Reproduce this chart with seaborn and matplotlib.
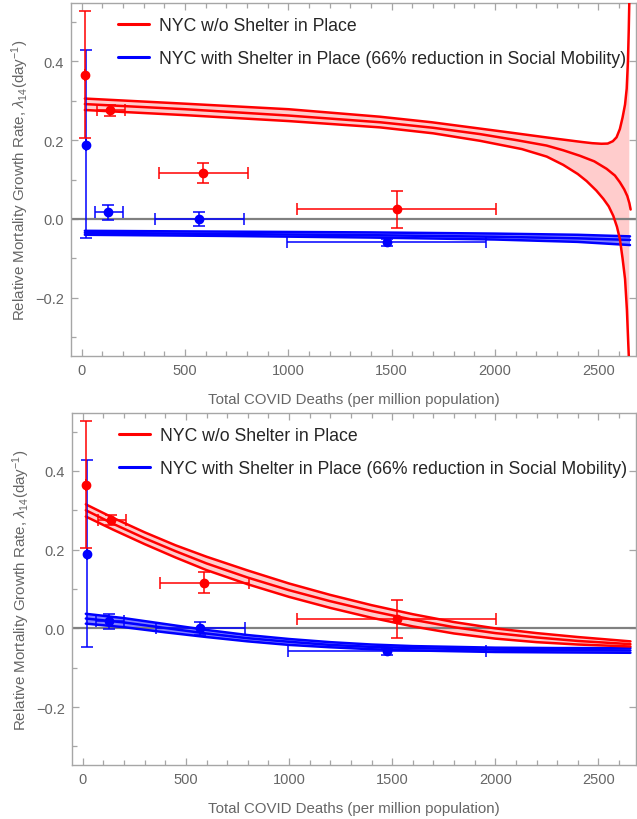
import numpy as np
import pandas as pd
import matplotlib
matplotlib.use("Agg")
import matplotlib.pyplot as plt
from matplotlib.ticker import MultipleLocator, FixedLocator
from matplotlib.lines import Line2D
import seaborn as sns

# ---- observed data (total deaths per million vs. relative growth rate) ----
red_x = [18, 137, 588, 1524]
red_y = [0.365, 0.276, 0.116, 0.025]
red_xlo = [18, 72, 375, 1040]
red_xhi = [18, 210, 806, 2003]
red_ylo = [0.205, 0.262, 0.090, -0.024]
red_yhi = [0.527, 0.289, 0.142, 0.072]

blue_x = [21, 129, 569, 1475]
blue_y = [0.188, 0.0185, 0.0, -0.058]
blue_xlo = [21, 64, 355, 995]
blue_xhi = [21, 201, 785, 1955]
blue_ylo = [-0.048, -0.002, -0.017, -0.068]
blue_yhi = [0.428, 0.036, 0.017, -0.050]

# ---- model curves, upper panel ----
t_red_up_x = [15, 500, 1000, 1443, 1693, 2043, 2300, 2420, 2470, 2515, 2545, 2570, 2588,
              2604, 2617, 2629, 2637, 2643, 2647, 2650]
t_red_up_y = [0.305, 0.292, 0.278, 0.259, 0.245, 0.221, 0.203, 0.195, 0.192, 0.1905, 0.191,
              0.197, 0.207, 0.228, 0.257, 0.290, 0.330, 0.400, 0.480, 0.560]
t_red_mid_x = [15, 500, 1000, 1443, 1700, 1927, 2100, 2249, 2330, 2411, 2480, 2540, 2580,
               2604, 2625, 2640, 2650, 2656]
t_red_mid_y = [0.291, 0.278, 0.262, 0.245, 0.231, 0.215, 0.200, 0.186, 0.174, 0.160, 0.146,
               0.127, 0.110, 0.093, 0.075, 0.058, 0.040, 0.024]
t_red_lo_x = [15, 500, 1000, 1443, 1700, 1927, 2130, 2250, 2330, 2400, 2443, 2490, 2524,
              2550, 2572, 2590, 2604, 2617, 2629, 2638, 2645, 2649]
t_red_lo_y = [0.276, 0.263, 0.248, 0.232, 0.217, 0.198, 0.177, 0.158, 0.137, 0.114, 0.096,
              0.072, 0.051, 0.032, 0.008, -0.020, -0.051, -0.100, -0.152, -0.230, -0.321, -0.370]

t_blue_x = [15, 700, 1400, 2000, 2400, 2653]
t_blue_up_y = [-0.030, -0.032, -0.034, -0.037, -0.040, -0.044]
t_blue_mid_y = [-0.035, -0.038, -0.041, -0.045, -0.049, -0.053]
t_blue_lo_y = [-0.040, -0.043, -0.047, -0.052, -0.058, -0.066]

# ---- model curves, lower panel ----
b_x = [15, 150, 300, 450, 600, 800, 1000, 1200, 1400, 1600, 1800, 2000, 2200, 2400, 2655]
b_red_up_y = [0.315, 0.280, 0.244, 0.211, 0.182, 0.147, 0.114, 0.085, 0.059, 0.036, 0.016,
              0.000, -0.012, -0.022, -0.033]
b_red_mid_y = [0.300, 0.265, 0.229, 0.196, 0.165, 0.129, 0.097, 0.069, 0.044, 0.022, 0.003,
               -0.012, -0.023, -0.032, -0.040]
b_red_lo_y = [0.284, 0.250, 0.214, 0.180, 0.148, 0.112, 0.080, 0.052, 0.027, 0.005, -0.013,
              -0.026, -0.035, -0.041, -0.046]

b_blue_x = [15, 200, 400, 600, 800, 1000, 1200, 1400, 1600, 1800, 2000, 2300, 2655]
b_blue_up_y = [0.037, 0.026, 0.011, -0.004, -0.017, -0.027, -0.035, -0.041, -0.045, -0.047,
               -0.049, -0.050, -0.050]
b_blue_mid_y = [0.025, 0.015, 0.001, -0.013, -0.025, -0.034, -0.042, -0.047, -0.050, -0.052,
                -0.054, -0.055, -0.056]
b_blue_lo_y = [0.012, 0.003, -0.010, -0.022, -0.033, -0.042, -0.048, -0.053, -0.056, -0.058,
               -0.060, -0.061, -0.062]

legend_labels = ["NYC w/o Shelter in Place",
                 "NYC with Shelter in Place (66% reduction in Social Mobility)"]
xlabel = "Total COVID Deaths (per million population)"
ylabel = r"Relative Mortality Growth Rate, $\lambda_{14}$(day$^{-1}$)"

sns.set_style("ticks")
plt.rcParams["font.family"] = ["Liberation Sans", "DejaVu Sans"]
plt.rcParams["mathtext.fontset"] = "custom"
plt.rcParams["mathtext.rm"] = "Liberation Sans"
plt.rcParams["mathtext.it"] = "Liberation Sans:italic"

RED = "#ff0000"
BLUE = "#0000ff"
PINK = "#ffcccc"
LBLUE = "#8080ff"
GRAY = "#808080"
FRAME = "#a6a6a6"
TXT = "#666666"

fig = plt.figure(figsize=(6.37, 8.2), dpi=100)
ax_top = fig.add_axes([71 / 637, 1 - 357 / 820, 565 / 637, 353 / 820])
ax_bot = fig.add_axes([72 / 637, 1 - 766 / 820, 564 / 637, 352 / 820])


def curve(ax, xs, ys, color):
    df = pd.DataFrame({"x": xs, "y": ys})
    sns.lineplot(data=df, x="x", y="y", ax=ax, color=color, lw=1.8,
                 estimator=None, sort=False, zorder=3)


def band(ax, ux, uy, lx, ly, color):
    ax.fill(np.r_[ux, lx[::-1]], np.r_[uy, ly[::-1]], color=color, lw=0, zorder=2)


def points(ax, xs, ys, xlo, xhi, ylo, yhi, color):
    xs = np.asarray(xs); ys = np.asarray(ys)
    xerr = [xs - np.asarray(xlo), np.asarray(xhi) - xs]
    yerr = [ys - np.asarray(ylo), np.asarray(yhi) - ys]
    ax.errorbar(xs, ys, xerr=xerr, yerr=yerr, fmt="o", color=color, ms=6,
                elinewidth=1.1, capsize=4, capthick=1.1, zorder=4)


def style(ax):
    ax.set_xlim(-52, 2682)
    ax.set_ylim(-0.347, 0.547)
    ax.axhline(0, color=GRAY, lw=1.6, zorder=2.5)
    ax.xaxis.set_major_locator(MultipleLocator(500))
    ax.xaxis.set_minor_locator(MultipleLocator(100))
    ax.yaxis.set_major_locator(FixedLocator([-0.2, 0.0, 0.2, 0.4]))
    ax.yaxis.set_minor_locator(MultipleLocator(0.1))
    ax.set_yticklabels(["\u22120.2", "0.0", "0.2", "0.4"])
    ax.tick_params(which="both", direction="in", top=True, right=True,
                   colors=FRAME, labelcolor=TXT, labelsize=10.5, width=0.9)
    ax.tick_params(which="major", length=5, pad=5)
    ax.tick_params(which="minor", length=3.5, right=False)
    for sp in ax.spines.values():
        sp.set_color(FRAME)
        sp.set_linewidth(1.0)
        sp.set_visible(True)
    ax.set_xlabel(xlabel, color=TXT, fontsize=10.8, labelpad=11)
    ax.set_ylabel(ylabel, color=TXT, fontsize=10.9, labelpad=3)
    handles = [Line2D([], [], color=RED, lw=2.2), Line2D([], [], color=BLUE, lw=2.2)]
    ax.legend(handles, legend_labels, loc="upper left", bbox_to_anchor=(0.083, 0.959),
              frameon=False, fontsize=12.7, handlelength=1.75, handletextpad=0.6,
              labelspacing=0.9, borderpad=0, borderaxespad=0)


# upper panel
band(ax_top, t_red_up_x, t_red_up_y, t_red_lo_x, t_red_lo_y, PINK)
band(ax_top, t_blue_x, t_blue_up_y, t_blue_x, t_blue_lo_y, LBLUE)
for ys in (t_blue_up_y, t_blue_mid_y, t_blue_lo_y):
    curve(ax_top, t_blue_x, ys, BLUE)
curve(ax_top, t_red_up_x, t_red_up_y, RED)
curve(ax_top, t_red_mid_x, t_red_mid_y, RED)
curve(ax_top, t_red_lo_x, t_red_lo_y, RED)
points(ax_top, blue_x, blue_y, blue_xlo, blue_xhi, blue_ylo, blue_yhi, BLUE)
points(ax_top, red_x, red_y, red_xlo, red_xhi, red_ylo, red_yhi, RED)
style(ax_top)

# lower panel
band(ax_bot, b_x, b_red_up_y, b_x, b_red_lo_y, PINK)
band(ax_bot, b_blue_x, b_blue_up_y, b_blue_x, b_blue_lo_y, LBLUE)
for ys in (b_blue_up_y, b_blue_mid_y, b_blue_lo_y):
    curve(ax_bot, b_blue_x, ys, BLUE)
for ys in (b_red_up_y, b_red_mid_y, b_red_lo_y):
    curve(ax_bot, b_x, ys, RED)
points(ax_bot, blue_x, blue_y, blue_xlo, blue_xhi, blue_ylo, blue_yhi, BLUE)
points(ax_bot, red_x, red_y, red_xlo, red_xhi, red_ylo, red_yhi, RED)
style(ax_bot)

fig.savefig("out.png", dpi=100)
